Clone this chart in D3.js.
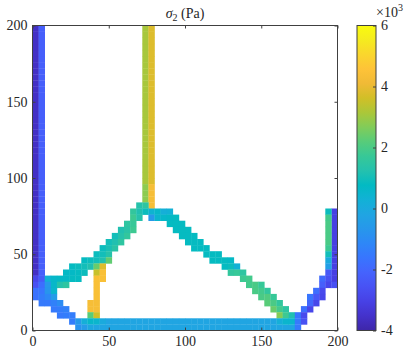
<!DOCTYPE html>
<html>
<head>
<meta charset="utf-8">
<script src="https://cdn.jsdelivr.net/npm/d3@7"></script>
<style>
  body { margin: 0; background: #fff; }
  svg text { font-family: "Liberation Serif", "DejaVu Serif", serif !important; fill: #262626; }
</style>
</head>
<body>
<script>
// ticks
const xTicks = [0, 50, 100, 150, 200];
const yTicks = [0, 50, 100, 150, 200];
const cbTicks = [-4, -2, 0, 2, 4, 6];
const cellSize = 4;

// stress in units of 10^3 Pa
// long vertical runs: [col, firstRow, lastRow, value]
const columnRuns = [
  [0, 9, 49, -3.6],
  [1, 9, 49, -2.2],
  [18, 24, 49, 3.1],
  [18, 21, 23, 2.8],
  [19, 24, 49, 3.8],
  [19, 20, 23, 4.3],
  [49, 8, 19, -3.1]
];

// long horizontal runs: [row, firstCol, lastCol, value]
const rowRuns = [
  [1, 12, 39, -0.2],
  [0, 10, 42, -0.2]
];

// single cells along a row: [row, firstCol, values]
const rowCells = [
  [20, 17, [1.3, 1.5]],
  [19, 16, [1.6, 1.2, 0.9, 0.4, 0.6, 0.2, 0.3]],
  [19, 48, [0.9]],
  [18, 16, [1.8, 1.3]],
  [18, 19, [-0.6, 0.5, 0.6, 0.7, 0.8]],
  [18, 48, [1.9]],
  [17, 15, [1.5, 1.7]],
  [17, 22, [0.8, 0.8, 0.8]],
  [17, 48, [2.0]],
  [16, 14, [1.2, 1.4, 1.8]],
  [16, 23, [0.8, 0.8, 0.8]],
  [16, 48, [2.0]],
  [15, 13, [1.0, 1.3, 1.6]],
  [15, 24, [0.8, 0.8, 0.8]],
  [15, 48, [2.0]],
  [14, 12, [1.0, 1.2, 1.5]],
  [14, 25, [0.8, 0.8, 0.8]],
  [14, 48, [2.0]],
  [13, 11, [0.9, 1.1, 1.4]],
  [13, 26, [0.8, 0.8, 0.8]],
  [13, 48, [1.8]],
  [12, 10, [0.9, 1.0, 1.3]],
  [12, 28, [0.8, 0.8, 0.8]],
  [12, 48, [1.0]],
  [11, 8, [0.8, 0.9, 1.0, 1.2, 2.3]],
  [11, 29, [0.8, 0.8, 0.8, 0.7]],
  [11, 48, [0.0]],
  [10, 6, [0.8, 0.9, 1.0, 1.2, 2.4, 3.8]],
  [10, 31, [0.8, 0.9, 0.3]],
  [10, 48, [-0.4]],
  [9, 5, [0.7, 0.7, 0.8, 0.9]],
  [9, 10, [3.5, 4.4]],
  [9, 32, [1.6, 1.7, 1.5]],
  [9, 48, [-2.4]],
  [8, 0, [-2.9, -2.3, 0.3, 0.6, 0.7, 0.7, 0.8, 0.8]],
  [8, 10, [4.4, 4.4]],
  [8, 34, [1.8, 1.9]],
  [8, 47, [-1.9, -2.6]],
  [7, 0, [-2.6, -1.8, -0.6, 0.6, 1.3, 1.5]],
  [7, 10, [4.4]],
  [7, 35, [1.9, 2.0, 1.7]],
  [7, 47, [-2.2, -2.9, -2.6]],
  [6, 0, [-1.7, -1.6, -0.7, 0.5]],
  [6, 10, [4.4]],
  [6, 36, [2.0, 1.9, 1.6]],
  [6, 46, [-1.8, -2.8]],
  [5, 0, [-1.7, -1.4, -1.1, -0.5]],
  [5, 10, [4.4]],
  [5, 37, [2.0, 2.1, 1.7]],
  [5, 45, [-1.6, -2.4, -2.9]],
  [4, 1, [-1.5, -1.5, -1.3, -1.0]],
  [4, 9, [4.3, 4.3]],
  [4, 38, [2.2, 2.0, 1.6]],
  [4, 45, [-2.0, -2.9]],
  [3, 3, [-1.5, -1.4, -1.3]],
  [3, 9, [4.3, 4.3]],
  [3, 39, [2.4, 1.9, 1.5]],
  [3, 44, [-1.8, -2.9]],
  [2, 4, [-1.5, -1.4, -1.4]],
  [2, 9, [2.2, 3.6]],
  [2, 40, [2.7, 1.8, 1.2]],
  [2, 43, [-1.6, -2.8]],
  [1, 6, [-1.4, -0.6, 0.2, 0.6, 0.5, 0.0]],
  [1, 40, [0.2, 0.5, 0.5, -1.5, -2.6]],
  [0, 7, [-0.8, -0.5, -0.1]],
  [0, 43, [-1.5]]
];

// parula
const parula = ["#3e26a8", "#4432cb", "#4741e5", "#4852f4", "#4563fd", "#3875fe",
  "#2e87f7", "#2797eb", "#20a5e2", "#12b1d6", "#02bac3", "#24c1ae", "#37c897",
  "#57cc7a", "#81cc59", "#abc739", "#d1bf27", "#f0ba36", "#fec338", "#fad62d",
  "#f5eb1f", "#f9fb0e"];

const W = 411, H = 358;
const svg = d3.select("body").append("svg")
  .attr("width", W)
  .attr("height", H);

const x = d3.scaleLinear().domain([0, 200]).range([32.5, 337.5]);
const y = d3.scaleLinear().domain([0, 200]).range([330.5, 25.5]);
const interp = d3.piecewise(d3.interpolateRgb, parula);
const color = d3.scaleSequential(interp).domain([-4, 6]).clamp(true);

// flatten everything into cells
const cells = [];
columnRuns.forEach(([c, r0, r1, v]) => {
  for (let r = r0; r <= r1; r++) cells.push({c, r, v});
});
rowRuns.forEach(([r, c0, c1, v]) => {
  for (let c = c0; c <= c1; c++) cells.push({c, r, v});
});
rowCells.forEach(([r, c0, vals]) => {
  vals.forEach((v, i) => cells.push({c: c0 + i, r, v}));
});

const cw = x(cellSize) - x(0);
const ch = y(0) - y(cellSize);

svg.append("g")
  .selectAll("rect")
  .data(cells)
  .enter()
  .append("rect")
  .attr("x", d => x(d.c * cellSize))
  .attr("y", d => y((d.r + 1) * cellSize))
  .attr("width", cw + 0.3)
  .attr("height", ch + 0.3)
  .attr("fill", d => color(d.v));

// axes, ticks pointing inwards
const axisColor = "#404040";
const xAxis = d3.axisBottom(x).tickValues(xTicks).tickSize(-3).tickSizeOuter(0).tickPadding(6);
const yAxis = d3.axisLeft(y).tickValues(yTicks).tickSize(-3).tickSizeOuter(0).tickPadding(5);

svg.append("g").attr("transform", "translate(0," + y(0) + ")").call(xAxis);
svg.append("g").attr("transform", "translate(" + x(0) + ",0)").call(yAxis);
svg.append("g").attr("transform", "translate(0," + y(200) + ")")
  .call(d3.axisTop(x).tickValues(xTicks).tickSize(-3).tickSizeOuter(0).tickFormat(""));
svg.append("g").attr("transform", "translate(" + x(200) + ",0)")
  .call(d3.axisRight(y).tickValues(yTicks).tickSize(-3).tickSizeOuter(0).tickFormat(""));

svg.selectAll(".domain").remove();
svg.selectAll(".tick line").attr("stroke", axisColor);
svg.selectAll("g").attr("font-family", null);
svg.selectAll(".tick text").attr("font-size", 14).style("font-family", "'Liberation Serif', serif");

svg.append("rect")
  .attr("x", x(0))
  .attr("y", y(200))
  .attr("width", x(200) - x(0))
  .attr("height", y(0) - y(200))
  .attr("fill", "none")
  .attr("stroke", axisColor)
  .attr("stroke-width", 1);

// title
const title = svg.append("text")
  .attr("x", (x(0) + x(200)) / 2)
  .attr("y", 17.5)
  .attr("text-anchor", "middle")
  .attr("font-size", 14);
title.append("tspan").attr("font-style", "italic").text("σ");
title.append("tspan").attr("font-size", 10).attr("dy", 3).text("2");
title.append("tspan").attr("dy", -3).text("\u00a0(Pa)");

// colorbar
const cbX = 357, cbW = 19;
const cy = d3.scaleLinear().domain([-4, 6]).range([330.5, 25.5]);

const grad = svg.append("defs").append("linearGradient")
  .attr("id", "cbgrad")
  .attr("x1", 0).attr("y1", 1).attr("x2", 0).attr("y2", 0);
parula.forEach((col, i) => {
  grad.append("stop")
    .attr("offset", i / (parula.length - 1))
    .attr("stop-color", col);
});

svg.append("rect")
  .attr("x", cbX)
  .attr("y", cy(6))
  .attr("width", cbW)
  .attr("height", cy(-4) - cy(6))
  .attr("fill", "url(#cbgrad)")
  .attr("stroke", axisColor)
  .attr("stroke-width", 1);

const cbAxis = d3.axisRight(cy).tickValues(cbTicks).tickSize(-3).tickSizeOuter(0).tickPadding(5)
  .tickFormat(d => d < 0 ? "-" + Math.abs(d) : d);
const gcb = svg.append("g").attr("transform", "translate(" + (cbX + cbW) + ",0)").call(cbAxis);
gcb.select(".domain").remove();
gcb.attr("font-family", null);
gcb.selectAll(".tick line").attr("stroke", axisColor);
gcb.selectAll(".tick text").attr("font-size", 14).style("font-family", "'Liberation Serif', serif");

const expo = svg.append("text")
  .attr("x", 376)
  .attr("y", 16.5)
  .style("font-size", "14px");
expo.append("tspan").text("×10");
expo.append("tspan").style("font-size", "10px").attr("dy", -6).text("3");
</script>
</body>
</html>
